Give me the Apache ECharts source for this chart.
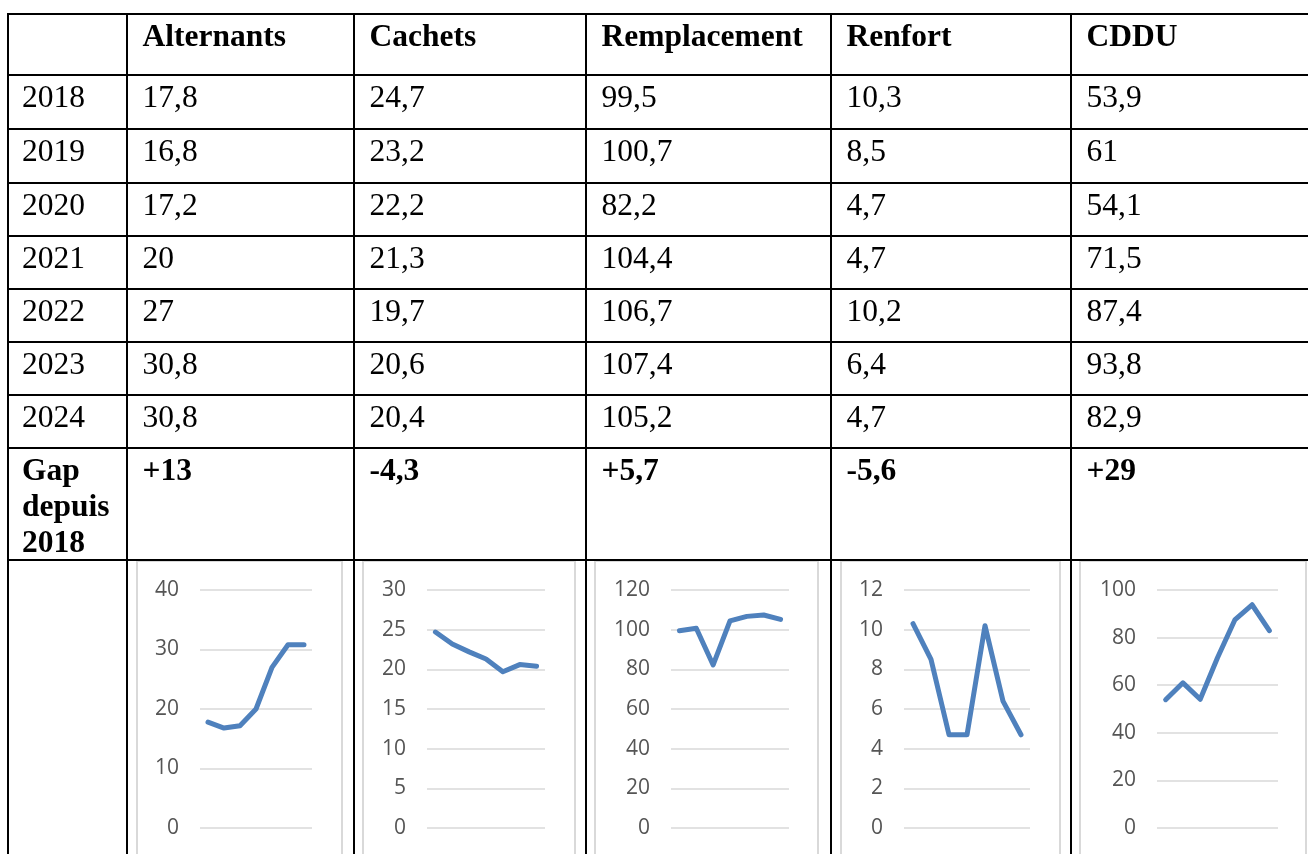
<!DOCTYPE html>
<html>
<head>
<meta charset="utf-8">
<script src="https://cdn.jsdelivr.net/npm/echarts@6/dist/echarts.min.js"></script>
<style>
html,body{margin:0;padding:0;width:1308px;height:854px;overflow:hidden;background:#fff;}
#chart{position:absolute;left:0;top:0;width:1308px;height:854px;}
#table{position:absolute;left:0;top:0;width:1308px;height:854px;pointer-events:none;}
.ln{position:absolute;background:#000;}
.cell{position:absolute;font-family:"Liberation Serif","Times New Roman",serif;font-size:31.5px;color:#000;line-height:normal;}
.b{font-weight:bold;}
</style>
</head>
<body>
<div id="chart"></div>
<div id="table"></div>
<script>
// ---- data ----
const years = ['2018','2019','2020','2021','2022','2023','2024'];
const headers = ['Alternants','Cachets','Remplacement','Renfort','CDDU'];
const alternants = [17.8,16.8,17.2,20,27,30.8,30.8];
const cachets = [24.7,23.2,22.2,21.3,19.7,20.6,20.4];
const remplacement = [99.5,100.7,82.2,104.4,106.7,107.4,105.2];
const renfort = [10.3,8.5,4.7,4.7,10.2,6.4,4.7];
const cddu = [53.9,61,54.1,71.5,87.4,93.8,82.9];
const gapLabel = 'Gap depuis 2018';
const gaps = ['+13','-4,3','+5,7','-5,6','+29'];
const axisMax = [40,30,120,12,100];
const axisStep = [10,5,20,2,20];

const seriesData = [alternants,cachets,remplacement,renfort,cddu];

// ---- layout ----
const colX = [8,127,354,586,831,1071,1312];
const rowY = [14,75,129,183,236,289,342,395,448,560,900];
const padLFirst = 14, padL = 15.5, padT = 4;
const gridBoxes = [
  {left:200,width:112},{left:427,width:118},{left:671,width:118},{left:904,width:126},{left:1157,width:121}
];
const frames = [[137,342],[363,575],[595,818],[841,1060],[1080,1306]];

// ---- table ----
const tbl = document.getElementById('table');
function line(x,y,w,h){const d=document.createElement('div');d.className='ln';d.style.left=x+'px';d.style.top=y+'px';d.style.width=w+'px';d.style.height=h+'px';tbl.appendChild(d);}
function cell(c,r,text,bold){const d=document.createElement('div');d.className='cell'+(bold?' b':'');
  const p = c===0?padLFirst:padL;
  d.style.left=(colX[c]+p)+'px';d.style.top=(rowY[r]+padT)+'px';d.style.width=(colX[c+1]-colX[c]-p-6)+'px';
  d.textContent=text;tbl.appendChild(d);}
for(let i=0;i<rowY.length-1;i++) line(colX[0]-1,rowY[i]-1,colX[colX.length-1]-colX[0]+2,2);
for(let j=0;j<colX.length;j++) line(colX[j]-1,rowY[0]-1,2,rowY[rowY.length-1]-rowY[0]);
headers.forEach((h,i)=>cell(i+1,0,h,true));
const fmt = v => String(v).replace('.',',');
years.forEach((y,r)=>{
  cell(0,r+1,y,false);
  seriesData.forEach((s,c)=>cell(c+1,r+1,fmt(s[r]),false));
});
cell(0,8,gapLabel,true);
gaps.forEach((g,c)=>cell(c+1,8,g,true));

// ---- sparklines ----
const chart = echarts.init(document.getElementById('chart'),null,{renderer:'canvas'});
const grids=[],xAxes=[],yAxes=[],series=[],graphics=[];
seriesData.forEach((s,i)=>{
  grids.push({left:gridBoxes[i].left,width:gridBoxes[i].width,top:590,height:238});
  xAxes.push({type:'category',gridIndex:i,data:years,show:false});
  yAxes.push({type:'value',gridIndex:i,min:0,max:axisMax[i],interval:axisStep[i],
    axisLine:{show:false},axisTick:{show:false},
    axisLabel:{color:'#555555',fontFamily:'Open Sans',fontSize:21,margin:21},
    splitLine:{lineStyle:{color:'#D9D9D9',width:1.5}}});
  series.push({type:'line',xAxisIndex:i,yAxisIndex:i,data:s,symbol:'none',
    lineStyle:{color:'#4F81BD',width:5,cap:'round',join:'round'}});
  graphics.push({type:'rect',shape:{x:frames[i][0],y:561,width:frames[i][1]-frames[i][0],height:400},
    style:{fill:'none',stroke:'#D9D9D9',lineWidth:2},z:-1});
});
chart.setOption({animation:false,grid:grids,xAxis:xAxes,yAxis:yAxes,series:series,graphic:graphics});
</script>
</body>
</html>
